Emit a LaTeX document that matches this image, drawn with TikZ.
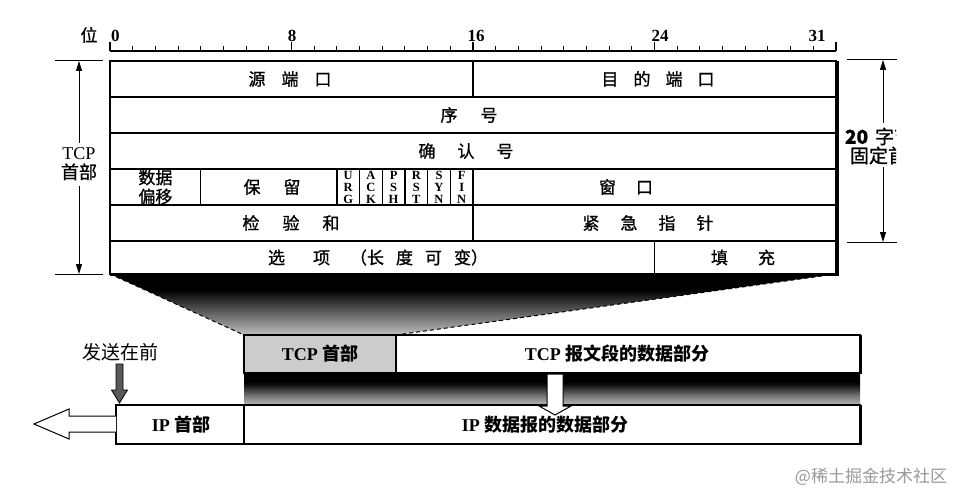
\documentclass[tikz,border=0pt]{standalone}
\usepackage{fontspec}
\setmainfont{Liberation Serif}
\newfontfamily\cjk{Noto Sans CJK SC}
\newfontfamily\cjkt[FakeBold=1]{Noto Sans CJK SC}
\usetikzlibrary{arrows.meta}
\pgfdeclareverticalshading{fadeshade}{100bp}{color(0bp)=(black!25); color(25bp)=(black!25); color(40bp)=(black!55); color(55bp)=(black!85); color(62bp)=(black); color(100bp)=(black)}
\pgfdeclareverticalshading{bandshade}{100bp}{color(0bp)=(black!28); color(25bp)=(black!28); color(40bp)=(black!55); color(57bp)=(black!95); color(62bp)=(black); color(100bp)=(black)}
\newcommand{\cgap}[1]{\hspace{#1pt}}
\begin{document}
\begin{tikzpicture}[x=1pt,y=-1pt,
  txt/.style={inner sep=0pt, outer sep=0pt},
  lab/.style={txt, font=\cjkt\fontsize{17}{19}\selectfont},
  num/.style={txt, font=\bfseries\fontsize{17}{17}\selectfont},
  flagtxt/.style={txt, align=center, font=\bfseries\fontsize{12.5}{12}\selectfont},
  cellline/.style={line width=1.3pt},
  outerline/.style={line width=2.4pt},
  dimarrow/.style={line width=1pt, -{Triangle[length=10pt,width=6pt]}},
  extline/.style={line width=1pt},
  dashline/.style={line width=1pt, dash pattern=on 4pt off 3pt},
  bottomlbl/.style={txt, font=\bfseries\fontsize{18}{18}\selectfont},
  blockarrow/.style={line width=1pt, fill=white},
]
\fill[white] (0,0) rectangle (957,494);
\useasboundingbox (0,0) rectangle (957,494);

% ---- ruler ----
\draw[line width=1.3pt] (110,51) -- (836,51);
\foreach \i in {1,...,31}{\draw[line width=1pt] ({110+\i*22.6875},51) -- ++(0,-4.5);}
\foreach \i in {0,8,16,24,32}{\draw[line width=1.3pt] ({110+\i*22.6875},51) -- ++(0,-9);}
\node[txt, font=\cjkt\fontsize{17}{17}\selectfont] (wei) at (89,35) {位};
\node[num, anchor=west] (n0) at (111,36) {0};
\node[num] (n8) at (292,36) {8};
\node[num] (n16) at (476,36) {16};
\node[num] (n24) at (660,36) {24};
\node[num] (n31) at (817,36) {31};

% ---- fan-out shading ----
\shade[shading=fadeshade] (110,274) -- (836,274) -- (396,335) -- (244,335) -- cycle;
\draw[dashline] (110,274) -- (244,335);
\draw[dashline] (836,274) -- (396,335);

% ---- header table ----
\foreach \y in {97,133,169,205,241}{\draw[cellline] (110,\y) -- (836,\y);}
\draw[cellline] (473,61) -- (473,97);
\draw[cellline] (200.75,169) -- (200.75,205);
\foreach \i in {10,...,16}{\draw[cellline] ({110+\i*22.6875},169) -- ++(0,36);}
\draw[cellline] (473,205) -- (473,241);
\draw[cellline] (654.5,241) -- (654.5,274);
\draw[outerline] (110,61) rectangle (836,274);
\draw[line width=2pt] (838,61) -- (838,275.5);
\draw[line width=1.2pt] (110,275.5) -- (839,275.5);

\node[lab] (src) at (290,79) {源\cgap{16}端\cgap{16}口};
\node[lab] (dst) at (658,79) {目\cgap{15}的\cgap{15}端\cgap{15}口};
\node[lab] (seq) at (469,115) {序\cgap{23}号};
\node[lab] (ackn) at (466,151) {确\cgap{22}认\cgap{22}号};
\node[lab, align=center] (doff) at (155.4,187) {数据\\偏移};
\node[lab] (rsv) at (272,187) {保\cgap{23}留};
\node[flagtxt] (furg) at (348.2,187) {U\\R\\G};
\node[flagtxt] (fack) at (370.9,187) {A\\C\\K};
\node[flagtxt] (fpsh) at (393.6,187) {P\\S\\H};
\node[flagtxt] (frst) at (416.3,187) {R\\S\\T};
\node[flagtxt] (fsyn) at (439.0,187) {S\\Y\\N};
\node[flagtxt] (ffin) at (461.7,187) {F\\I\\N};
\node[lab] (win) at (626,187) {窗\cgap{20}口};
\node[lab] (chk) at (291,223) {检\cgap{23}验\cgap{23}和};
\node[lab] (urgp) at (648,223) {紧\cgap{21}急\cgap{21}指\cgap{21}针};
\node[lab] (opt) at (378,257.5) {选\cgap{28}项\cgap{20}（长\cgap{12}度\cgap{12}可\cgap{12}变）};
\node[lab] (pad) at (743,257.5) {填\cgap{30}充};

% ---- left dimension ----
\draw[extline] (55,61) -- (103,61);
\draw[extline] (55,274) -- (103,274);
\coordinate (LT) at (79,61);
\coordinate (LB) at (79,274);
\coordinate (La) at (79,143);
\coordinate (Lb) at (79,186);
\node[txt, align=center, font=\fontsize{18}{19}\selectfont] (tcplab) at (79,164) {TCP\\{\cjkt 首部}};
\draw[dimarrow] (La) -- (LT);
\draw[dimarrow] (Lb) -- (LB);

% ---- right dimension ----
\draw[extline] (847,60) -- (897,60);
\draw[extline] (847,242) -- (897,242);
\coordinate (RT) at (883,60);
\coordinate (RB) at (883,242);
\coordinate (Ra) at (883,123);
\coordinate (Rb) at (883,167);
\draw[dimarrow] (Ra) -- (RT);
\draw[dimarrow] (Rb) -- (RB);
\begin{scope}
\clip (835,100) rectangle (896,180);
\node[txt, anchor=west, align=left, font=\cjkt\fontsize{19}{19}\selectfont] (fixlab) at (845,146) {\textbf{20}\cgap{7}字节\\\hspace*{5pt}固定首部};
\end{scope}

% ---- TCP segment ----
\shade[shading=bandshade] (244,373) rectangle (860,405);
\fill[black!20] (244,335) rectangle (396,373);
\draw[outerline] (244,335) rectangle (860,373);
\draw[cellline] (396,335) -- (396,373);
\draw[line width=2pt] (861,335) -- (861,374);
\node[bottomlbl] (tcph) at (320,354) {TCP {\cjk 首部}};
\node[bottomlbl] (tcpd) at (617,354) {TCP {\cjk 报文段的数据部分}};

% ---- IP datagram ----
\fill[white] (116,405) rectangle (860,444);
\draw[outerline] (116,405) rectangle (860,444);
\draw[cellline] (244,405) -- (244,444);
\draw[line width=2pt] (861,405) -- (861,445);
\node[bottomlbl] (iph) at (181,425) {IP {\cjk 首部}};
\node[bottomlbl] (ipd) at (545,425) {IP {\cjk 数据报的数据部分}};

% white down arrow
\draw[blockarrow] (547,374) -- (563,374) -- (563,406) -- (571,406) -- (555,415) -- (539,406) -- (547,406) -- cycle;

% left hollow arrow
\draw[blockarrow] (116,416) -- (69,416) -- (69,409) -- (34,424) -- (69,439) -- (69,432) -- (116,432);

% send-first label and arrow
\node[txt, font=\cjk\fontsize{19}{19}\selectfont] (send) at (120,352) {发送在前};
\draw[line width=0.8pt, fill=black!65] (116,364) -- (123,364) -- (123,390) -- (127.5,390) -- (119.5,403) -- (111.5,390) -- (116,390) -- cycle;

% watermark
\node[txt, font=\cjk\fontsize{17}{17}\selectfont, text=black!40] (wm) at (871,477) {@稀土掘金技术社区};
\end{tikzpicture}
\end{document}
